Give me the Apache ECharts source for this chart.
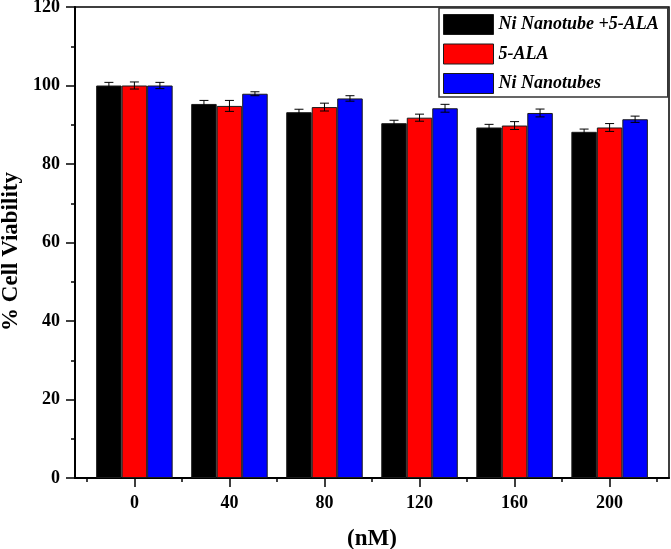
<!DOCTYPE html>
<html>
<head>
<meta charset="utf-8">
<script src="https://cdn.jsdelivr.net/npm/echarts@6/dist/echarts.min.js"></script>
<style>html,body{margin:0;padding:0;background:#fff}#c{width:671px;height:549px}</style>
</head>
<body>
<div id="c"></div>
<script>
var categories = [0, 40, 80, 120, 160, 200];
var seriesNames = ['Ni Nanotube +5-ALA', '5-ALA', 'Ni Nanotubes'];
var combo = [100.0, 95.3, 93.2, 90.4, 89.3, 88.2];
var comboErr = [0.8, 0.9, 0.75, 0.75, 0.8, 0.7];
var ala = [100.0, 94.8, 94.5, 91.8, 89.8, 89.3];
var alaErr = [0.9, 1.4, 1.0, 0.9, 1.0, 1.0];
var tubes = [100.0, 97.9, 96.7, 94.2, 93.0, 91.4];
var tubesErr = [0.8, 0.5, 0.7, 1.0, 1.0, 0.8];
var xMajorTicks = [0, 40, 80, 120, 160, 200];
var xMinorTicks = [-20, 20, 60, 100, 140, 180, 220];

var colors = ['#000000', '#ff0000', '#0000ff'];
var values = [combo, ala, tubes];
var errs = [comboErr, alaErr, tubesErr];
var BW = 25.5;
var offsets = [-BW, 0, BW];
var FONT = '"Liberation Serif", "Times New Roman", serif';

var chart = echarts.init(document.getElementById('c'), null, {renderer: 'canvas'});
var series = [];
for (var s = 0; s < 3; s++) {
  series.push({
    name: seriesNames[s],
    type: 'bar',
    barWidth: BW,
    barGap: '0%',
    itemStyle: {color: colors[s], borderColor: '#1a1a1a', borderWidth: 1},
    data: categories.map(function (c, i) { return [c, values[s][i]]; })
  });
}
for (var s2 = 0; s2 < 3; s2++) {
  (function (s) {
    series.push({
      type: 'custom',
      silent: true,
      z: 10,
      data: categories.map(function (c, i) { return [c, values[s][i], errs[s][i]]; }),
      renderItem: function (params, api) {
        var x = api.value(0), y = api.value(1), e = api.value(2);
        var top = api.coord([x, y + e]);
        var bot = api.coord([x, y - e]);
        var cx = top[0] + offsets[s];
        var hw = 4.5;
        var st = {stroke: '#000', lineWidth: 1};
        return {
          type: 'group',
          children: [
            {type: 'line', shape: {x1: cx, y1: top[1], x2: cx, y2: bot[1]}, style: st},
            {type: 'line', shape: {x1: cx - hw, y1: top[1], x2: cx + hw, y2: top[1]}, style: st},
            {type: 'line', shape: {x1: cx - hw, y1: bot[1], x2: cx + hw, y2: bot[1]}, style: st}
          ]
        };
      }
    });
  })(s2);
}

chart.setOption({
  animation: false,
  backgroundColor: '#fff',
  grid: {left: 75, right: 2, top: 7, bottom: 71, containLabel: false, outerBoundsMode: 'none',
    show: true, borderColor: '#000', borderWidth: 1.5, backgroundColor: 'transparent'},
  legend: {
    data: seriesNames,
    left: 439, top: 8,
    orient: 'vertical',
    backgroundColor: '#fff',
    borderColor: '#333',
    borderWidth: 1.5,
    borderRadius: 0,
    padding: [6, 9, 3, 4],
    itemWidth: 50, itemHeight: 20, itemGap: 8.5,
    itemStyle: {borderColor: '#1a1a1a', borderWidth: 1},
    textStyle: {fontFamily: FONT, fontSize: 18, fontWeight: 'bold', fontStyle: 'italic', color: '#000'},
    icon: 'rect'
  },
  xAxis: [{
    type: 'value',
    min: -25, max: 225,
    name: '(nM)',
    nameLocation: 'middle',
    nameGap: 50,
    nameTextStyle: {fontFamily: FONT, fontSize: 23, fontWeight: 'bold', color: '#000'},
    axisLine: {show: true, onZero: false, lineStyle: {color: '#000', width: 2}},
    axisTick: {show: true, inside: false, length: 9, lineStyle: {color: '#000', width: 1.5},
      customValues: xMajorTicks},
    axisLabel: {fontFamily: FONT, fontSize: 18, fontWeight: 'bold', color: '#000', margin: 16,
      customValues: xMajorTicks},
    splitLine: {show: false}
  }, {
    type: 'value', min: -25, max: 225, position: 'bottom',
    axisLine: {show: false, onZero: false},
    axisTick: {show: true, length: 4, lineStyle: {color: '#000', width: 1.5},
      customValues: xMinorTicks},
    axisLabel: {show: false},
    splitLine: {show: false}
  }],
  yAxis: {
    type: 'value',
    min: 0, max: 120, interval: 20,
    name: '% Cell Viability',
    nameLocation: 'middle',
    nameGap: 52,
    nameTextStyle: {fontFamily: FONT, fontSize: 23, fontWeight: 'bold', color: '#000', padding: [0, 18, 0, 0]},
    axisLine: {show: true, onZero: false, lineStyle: {color: '#000', width: 2}},
    axisTick: {show: true, length: 9, lineStyle: {color: '#000', width: 1.5}},
    minorTick: {show: true, splitNumber: 2, length: 4, lineStyle: {color: '#000', width: 1.5}},
    axisLabel: {fontFamily: FONT, fontSize: 18, fontWeight: 'bold', color: '#000', margin: 15},
    splitLine: {show: false}
  },
  series: series
});
</script>
</body>
</html>
